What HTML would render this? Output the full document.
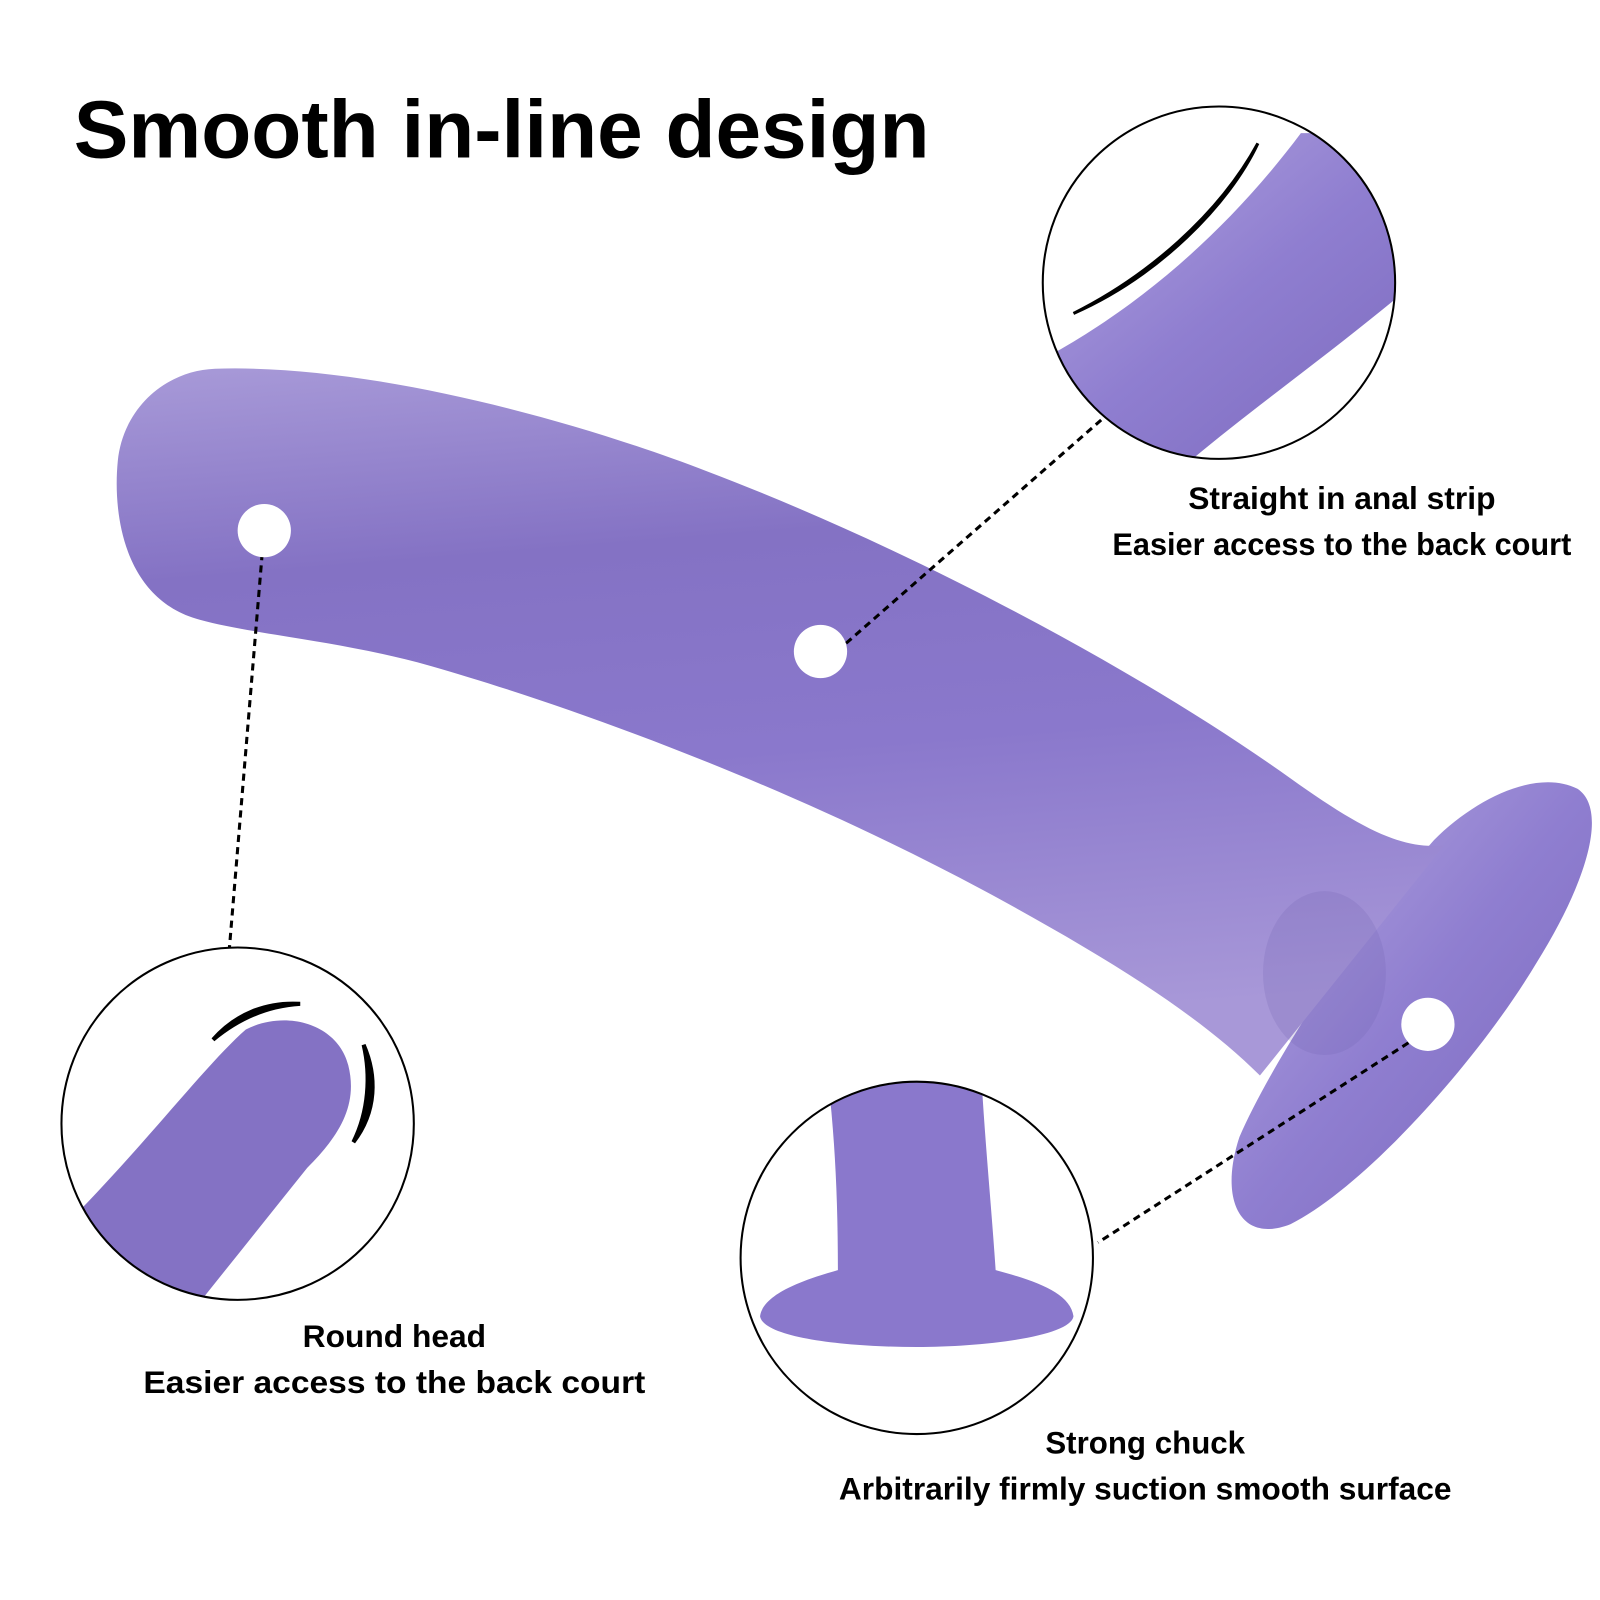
<!DOCTYPE html>
<html><head><meta charset="utf-8"><style>
html,body{margin:0;padding:0;background:#fff;}
svg{display:block;}
</style></head><body>
<svg width="1600" height="1600" viewBox="0 0 1562 1562" xmlns="http://www.w3.org/2000/svg">
<defs>
<linearGradient id="body" x1="0" y1="0" x2="0.15" y2="1">
<stop offset="0" stop-color="#a89ad8"/><stop offset="0.3" stop-color="#8472c4"/><stop offset="0.6" stop-color="#8a78cc"/><stop offset="1" stop-color="#a898d8"/>
</linearGradient>
<linearGradient id="base" x1="0" y1="0" x2="1" y2="1">
<stop offset="0" stop-color="#b5a8e0"/><stop offset="0.5" stop-color="#8f7ed0"/><stop offset="1" stop-color="#7a68bc"/>
</linearGradient>
<clipPath id="c1"><circle cx="1190" cy="276" r="172"/></clipPath>
<clipPath id="c2"><circle cx="232" cy="1097" r="172"/></clipPath>
<clipPath id="c3"><circle cx="895" cy="1228" r="172"/></clipPath>
</defs>
<text x="72" y="154" font-family="Liberation Sans, sans-serif" font-weight="bold" font-size="80" fill="#000">Smooth in-line design</text>

<path d="M1400 820 C1440 780 1500 750 1540 770 C1570 790 1550 860 1500 940 C1440 1040 1330 1160 1260 1195 C1210 1215 1190 1170 1210 1110 C1240 1040 1330 900 1400 820 Z" fill="url(#base)"/>
<path d="M210 360 C360 355 560 410 690 460 C900 540 1120 660 1260 760 C1330 810 1370 830 1410 825 L1230 1050 C1170 990 1080 935 980 880 C780 770 560 690 420 650 C330 625 250 620 195 605 C120 585 110 500 115 450 C120 400 160 362 210 360 Z" fill="url(#body)"/>
<ellipse cx="1293" cy="950" rx="60" ry="80" fill="#6f5eb0" opacity="0.2"/>

<g stroke="#000" stroke-width="3" stroke-dasharray="7,5" fill="none">
<line x1="256" y1="540" x2="224" y2="925"/>
<line x1="826" y1="628" x2="1075" y2="410"/>
<line x1="1375" y1="1018" x2="1072" y2="1213"/>
</g>
<circle cx="258" cy="518" r="26" fill="#fff"/>
<circle cx="801" cy="636" r="26" fill="#fff"/>
<circle cx="1394" cy="1000" r="26" fill="#fff"/>

<g clip-path="url(#c1)">
<path d="M1270 130 L1400 130 L1400 260 C1320 330 1220 400 1150 460 L1000 460 L1000 360 C1080 320 1180 250 1270 130 Z" fill="url(#base)"/>
</g>
<circle cx="1190" cy="276" r="172" fill="none" stroke="#000" stroke-width="2"/>
<path d="M1048 306 C1120 270 1190 210 1228 140 C1200 200 1130 270 1048 306 Z" fill="#000" stroke="#000" stroke-width="3"/>

<g clip-path="url(#c2)">
<path d="M60 1200 C140 1120 200 1040 240 1005 C280 985 330 1000 340 1040 C350 1080 330 1110 300 1140 C260 1190 220 1240 180 1290 L60 1290 Z" fill="#8472c4"/>
</g>
<circle cx="232" cy="1097" r="172" fill="none" stroke="#000" stroke-width="2"/>
<path d="M208 1015 C230 990 260 978 293 980 C260 982 232 995 208 1015 Z" fill="#000" stroke="#000" stroke-width="4"/>
<path d="M355 1020 C368 1050 368 1085 345 1115 C360 1085 362 1050 355 1020 Z" fill="#000" stroke="#000" stroke-width="4"/>

<g clip-path="url(#c3)">
<path d="M808 1050 L958 1050 C962 1120 968 1180 972 1240 C1010 1250 1045 1262 1048 1285 C1045 1305 960 1315 895 1315 C820 1315 745 1305 742 1285 C745 1262 790 1248 818 1240 C818 1170 815 1110 808 1050 Z" fill="#8a78cc"/>
</g>
<circle cx="895" cy="1228" r="172" fill="none" stroke="#000" stroke-width="2"/>

<g font-family="Liberation Sans, sans-serif" font-weight="bold" font-size="31" fill="#000" text-anchor="middle">
<text x="1310" y="497" textLength="300" lengthAdjust="spacingAndGlyphs">Straight in anal strip</text>
<text x="1310" y="542" textLength="448" lengthAdjust="spacingAndGlyphs">Easier access to the back court</text>
<text x="385" y="1315">Round head</text>
<text x="385" y="1360" textLength="490" lengthAdjust="spacingAndGlyphs">Easier access to the back court</text>
<text x="1118" y="1419" textLength="195" lengthAdjust="spacingAndGlyphs">Strong chuck</text>
<text x="1118" y="1464" textLength="598" lengthAdjust="spacingAndGlyphs">Arbitrarily firmly suction smooth surface</text>
</g>
</svg>
</body></html>
